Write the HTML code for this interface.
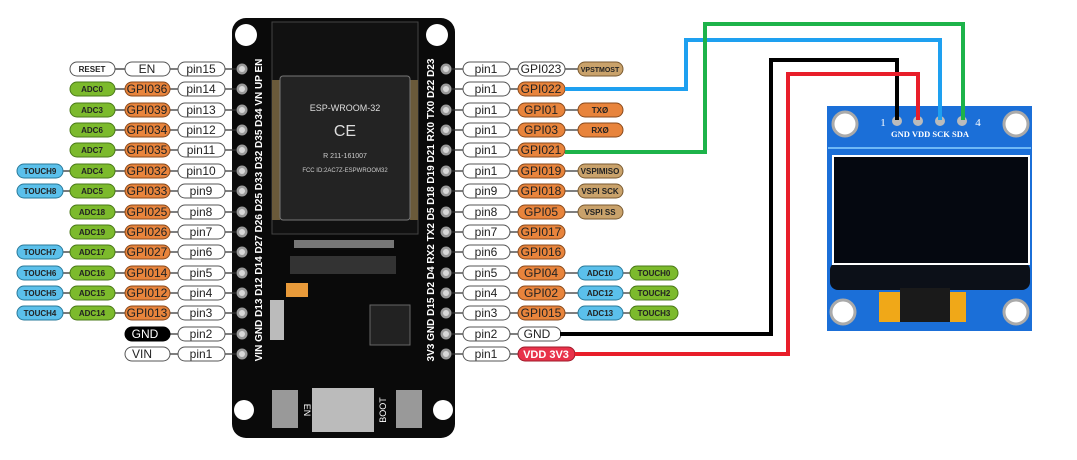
<!DOCTYPE html>
<html><head><meta charset="utf-8"><style>
html,body{margin:0;padding:0;background:#fff}
svg{display:block}
text{font-family:"Liberation Sans",sans-serif;text-anchor:middle}
.w{fill:#fff;stroke:#555;stroke-width:1}
.o{fill:#e8843c;stroke:#8a4a1c;stroke-width:1}
.g{fill:#7cba2c;stroke:#4a7a18;stroke-width:1}
.b{fill:#5bc0eb;stroke:#2a7a9a;stroke-width:1}
.t{fill:#c9a26b;stroke:#7a5a30;stroke-width:1}
.k{fill:#000;stroke:#000}
.r{fill:#e8324a;stroke:#a01a2a}
.p{font-size:12px;fill:#222}
.s{font-size:8px;font-weight:bold;fill:#222}
.ln{stroke:#333;stroke-width:1.3}
</style></head><body>
<svg width="1077" height="460" viewBox="0 0 1077 460" xmlns="http://www.w3.org/2000/svg">
<defs>
<g id="hp"><circle r="5.5" fill="#9a9a9a"/><circle r="3" fill="#d8d8d8"/></g>
</defs>
<!-- board -->
<rect x="232" y="18" width="223" height="420" rx="14" fill="#0a0a0a"/>
<circle cx="246" cy="35" r="11" fill="#fff"/><circle cx="437" cy="35" r="11" fill="#fff"/>
<circle cx="244" cy="410" r="10" fill="#fff"/><circle cx="443" cy="410" r="10" fill="#fff"/>
<rect x="272" y="22" width="146" height="212" fill="#111" stroke="#444"/>
<rect x="272" y="80" width="8" height="140" fill="#6a5a3a"/>
<rect x="410" y="80" width="8" height="140" fill="#6a5a3a"/>
<rect x="280" y="76" width="130" height="144" rx="3" fill="#232323" stroke="#777"/>
<text x="345" y="111" style="font-size:9px;fill:#ddd">ESP-WROOM-32</text>
<text x="345" y="136" style="font-size:16px;fill:#ddd">CE</text>
<text x="345" y="158" style="font-size:7px;fill:#ccc">R 211-161007</text>
<text x="345" y="172" style="font-size:6px;fill:#ccc">FCC ID:2AC7Z-ESPWROOM32</text>
<rect x="294" y="240" width="100" height="8" fill="#777"/>
<rect x="290" y="256" width="106" height="18" fill="#333"/>
<rect x="286" y="283" width="22" height="14" fill="#e89a3a"/>
<rect x="270" y="300" width="14" height="40" fill="#bbb"/>
<rect x="370" y="305" width="40" height="40" fill="#222" stroke="#666"/>
<rect x="272" y="390" width="26" height="38" fill="#999"/><rect x="396" y="390" width="26" height="38" fill="#999"/>
<rect x="312" y="388" width="62" height="44" fill="#bbb"/>
<text x="304" y="410" style="font-size:9px;fill:#fff" transform="rotate(90 304 410)">EN</text>
<text x="386" y="410" style="font-size:9px;fill:#fff" transform="rotate(-90 386 410)">BOOT</text>
<g>
<use href="#hp" x="242" y="69"/><use href="#hp" x="242" y="89"/><use href="#hp" x="242" y="110"/><use href="#hp" x="242" y="130"/><use href="#hp" x="242" y="150"/><use href="#hp" x="242" y="171"/><use href="#hp" x="242" y="191"/><use href="#hp" x="242" y="212"/><use href="#hp" x="242" y="232"/><use href="#hp" x="242" y="252"/><use href="#hp" x="242" y="273"/><use href="#hp" x="242" y="293"/><use href="#hp" x="242" y="313"/><use href="#hp" x="242" y="334"/><use href="#hp" x="242" y="354"/>
<use href="#hp" x="446" y="69"/><use href="#hp" x="446" y="89"/><use href="#hp" x="446" y="110"/><use href="#hp" x="446" y="130"/><use href="#hp" x="446" y="150"/><use href="#hp" x="446" y="171"/><use href="#hp" x="446" y="191"/><use href="#hp" x="446" y="212"/><use href="#hp" x="446" y="232"/><use href="#hp" x="446" y="252"/><use href="#hp" x="446" y="273"/><use href="#hp" x="446" y="293"/><use href="#hp" x="446" y="313"/><use href="#hp" x="446" y="334"/><use href="#hp" x="446" y="354"/>
</g>
<text x="262" y="210" style="font-size:10px;font-weight:bold;fill:#fff" transform="rotate(-90 262 210)">VIN GND D13 D12 D14 D27 D26 D25 D33 D32 D35 D34 VN UP EN</text>
<text x="434" y="210" style="font-size:10px;font-weight:bold;fill:#fff" transform="rotate(-90 434 210)">3V3 GND D15 D2 D4 RX2 TX2 D5 D18 D19 D21 RX0 TX0 D22 D23</text>

<!-- left connector lines -->
<g class="ln">
<line x1="63" y1="171" x2="70" y2="171"/><line x1="63" y1="191" x2="70" y2="191"/><line x1="63" y1="252" x2="70" y2="252"/><line x1="63" y1="273" x2="70" y2="273"/><line x1="63" y1="293" x2="70" y2="293"/><line x1="63" y1="313" x2="70" y2="313"/>
<line x1="115" y1="69" x2="125" y2="69"/><line x1="115" y1="89" x2="125" y2="89"/><line x1="115" y1="110" x2="125" y2="110"/><line x1="115" y1="130" x2="125" y2="130"/><line x1="115" y1="150" x2="125" y2="150"/><line x1="115" y1="171" x2="125" y2="171"/><line x1="115" y1="191" x2="125" y2="191"/><line x1="115" y1="212" x2="125" y2="212"/><line x1="115" y1="232" x2="125" y2="232"/><line x1="115" y1="252" x2="125" y2="252"/><line x1="115" y1="273" x2="125" y2="273"/><line x1="115" y1="293" x2="125" y2="293"/><line x1="115" y1="313" x2="125" y2="313"/>
<line x1="170" y1="69" x2="236" y2="69"/><line x1="170" y1="89" x2="236" y2="89"/><line x1="170" y1="110" x2="236" y2="110"/><line x1="170" y1="130" x2="236" y2="130"/><line x1="170" y1="150" x2="236" y2="150"/><line x1="170" y1="171" x2="236" y2="171"/><line x1="170" y1="191" x2="236" y2="191"/><line x1="170" y1="212" x2="236" y2="212"/><line x1="170" y1="232" x2="236" y2="232"/><line x1="170" y1="252" x2="236" y2="252"/><line x1="170" y1="273" x2="236" y2="273"/><line x1="170" y1="293" x2="236" y2="293"/><line x1="170" y1="313" x2="236" y2="313"/><line x1="170" y1="334" x2="236" y2="334"/><line x1="170" y1="354" x2="236" y2="354"/>
<!-- right -->
<line x1="452" y1="69" x2="578" y2="69"/><line x1="452" y1="89" x2="518" y2="89"/><line x1="452" y1="110" x2="578" y2="110"/><line x1="452" y1="130" x2="578" y2="130"/><line x1="452" y1="150" x2="518" y2="150"/><line x1="452" y1="171" x2="578" y2="171"/><line x1="452" y1="191" x2="578" y2="191"/><line x1="452" y1="212" x2="578" y2="212"/><line x1="452" y1="232" x2="518" y2="232"/><line x1="452" y1="252" x2="518" y2="252"/><line x1="452" y1="273" x2="630" y2="273"/><line x1="452" y1="293" x2="630" y2="293"/><line x1="452" y1="313" x2="630" y2="313"/><line x1="452" y1="334" x2="518" y2="334"/><line x1="452" y1="354" x2="518" y2="354"/>
</g>

<!-- left boxes -->
<g>
<rect class="w" x="70" y="62" width="45" height="14" rx="7"/><text class="s" x="92" y="72">RESET</text>
<rect class="w" x="125" y="62" width="45" height="14" rx="7"/><text class="p" x="147" y="73">EN</text>
<rect class="w" x="178" y="62" width="47" height="14" rx="7"/><text class="p" x="201" y="73">pin15</text>

<rect class="g" x="70" y="82" width="45" height="14" rx="7"/><text class="s" x="92" y="92">ADC0</text>
<rect class="o" x="125" y="82" width="45" height="14" rx="7"/><text class="p" x="147" y="93">GPI036</text>
<rect class="w" x="178" y="82" width="47" height="14" rx="7"/><text class="p" x="201" y="93">pin14</text>

<rect class="g" x="70" y="103" width="45" height="14" rx="7"/><text class="s" x="92" y="113">ADC3</text>
<rect class="o" x="125" y="103" width="45" height="14" rx="7"/><text class="p" x="147" y="114">GPI039</text>
<rect class="w" x="178" y="103" width="47" height="14" rx="7"/><text class="p" x="201" y="114">pin13</text>

<rect class="g" x="70" y="123" width="45" height="14" rx="7"/><text class="s" x="92" y="133">ADC6</text>
<rect class="o" x="125" y="123" width="45" height="14" rx="7"/><text class="p" x="147" y="134">GPI034</text>
<rect class="w" x="178" y="123" width="47" height="14" rx="7"/><text class="p" x="201" y="134">pin12</text>

<rect class="g" x="70" y="143" width="45" height="14" rx="7"/><text class="s" x="92" y="153">ADC7</text>
<rect class="o" x="125" y="143" width="45" height="14" rx="7"/><text class="p" x="147" y="154">GPI035</text>
<rect class="w" x="178" y="143" width="47" height="14" rx="7"/><text class="p" x="201" y="154">pin11</text>

<rect class="b" x="17" y="164" width="46" height="14" rx="7"/><text class="s" x="40" y="174">TOUCH9</text>
<rect class="g" x="70" y="164" width="45" height="14" rx="7"/><text class="s" x="92" y="174">ADC4</text>
<rect class="o" x="125" y="164" width="45" height="14" rx="7"/><text class="p" x="147" y="175">GPI032</text>
<rect class="w" x="178" y="164" width="47" height="14" rx="7"/><text class="p" x="201" y="175">pin10</text>

<rect class="b" x="17" y="184" width="46" height="14" rx="7"/><text class="s" x="40" y="194">TOUCH8</text>
<rect class="g" x="70" y="184" width="45" height="14" rx="7"/><text class="s" x="92" y="194">ADC5</text>
<rect class="o" x="125" y="184" width="45" height="14" rx="7"/><text class="p" x="147" y="195">GPI033</text>
<rect class="w" x="178" y="184" width="47" height="14" rx="7"/><text class="p" x="201" y="195">pin9</text>

<rect class="g" x="70" y="205" width="45" height="14" rx="7"/><text class="s" x="92" y="215">ADC18</text>
<rect class="o" x="125" y="205" width="45" height="14" rx="7"/><text class="p" x="147" y="216">GPI025</text>
<rect class="w" x="178" y="205" width="47" height="14" rx="7"/><text class="p" x="201" y="216">pin8</text>

<rect class="g" x="70" y="225" width="45" height="14" rx="7"/><text class="s" x="92" y="235">ADC19</text>
<rect class="o" x="125" y="225" width="45" height="14" rx="7"/><text class="p" x="147" y="236">GPI026</text>
<rect class="w" x="178" y="225" width="47" height="14" rx="7"/><text class="p" x="201" y="236">pin7</text>

<rect class="b" x="17" y="245" width="46" height="14" rx="7"/><text class="s" x="40" y="255">TOUCH7</text>
<rect class="g" x="70" y="245" width="45" height="14" rx="7"/><text class="s" x="92" y="255">ADC17</text>
<rect class="o" x="125" y="245" width="45" height="14" rx="7"/><text class="p" x="147" y="256">GPI027</text>
<rect class="w" x="178" y="245" width="47" height="14" rx="7"/><text class="p" x="201" y="256">pin6</text>

<rect class="b" x="17" y="266" width="46" height="14" rx="7"/><text class="s" x="40" y="276">TOUCH6</text>
<rect class="g" x="70" y="266" width="45" height="14" rx="7"/><text class="s" x="92" y="276">ADC16</text>
<rect class="o" x="125" y="266" width="45" height="14" rx="7"/><text class="p" x="147" y="277">GPI014</text>
<rect class="w" x="178" y="266" width="47" height="14" rx="7"/><text class="p" x="201" y="277">pin5</text>

<rect class="b" x="17" y="286" width="46" height="14" rx="7"/><text class="s" x="40" y="296">TOUCH5</text>
<rect class="g" x="70" y="286" width="45" height="14" rx="7"/><text class="s" x="92" y="296">ADC15</text>
<rect class="o" x="125" y="286" width="45" height="14" rx="7"/><text class="p" x="147" y="297">GPI012</text>
<rect class="w" x="178" y="286" width="47" height="14" rx="7"/><text class="p" x="201" y="297">pin4</text>

<rect class="b" x="17" y="306" width="46" height="14" rx="7"/><text class="s" x="40" y="316">TOUCH4</text>
<rect class="g" x="70" y="306" width="45" height="14" rx="7"/><text class="s" x="92" y="316">ADC14</text>
<rect class="o" x="125" y="306" width="45" height="14" rx="7"/><text class="p" x="147" y="317">GPI013</text>
<rect class="w" x="178" y="306" width="47" height="14" rx="7"/><text class="p" x="201" y="317">pin3</text>

<rect class="k" x="125" y="327" width="45" height="14" rx="7"/><text class="p" x="145" y="338" style="fill:#fff">GND</text>
<rect class="w" x="178" y="327" width="47" height="14" rx="7"/><text class="p" x="201" y="338">pin2</text>

<rect class="w" x="125" y="347" width="45" height="14" rx="7"/><text class="p" x="142" y="358">VIN</text>
<rect class="w" x="178" y="347" width="47" height="14" rx="7"/><text class="p" x="201" y="358">pin1</text>
</g>

<!-- right boxes -->
<g>
<rect class="w" x="463" y="62" width="47" height="14" rx="7"/><text class="p" x="486" y="73">pin1</text>
<rect class="w" x="518" y="62" width="47" height="14" rx="7"/><text class="p" x="541" y="73">GPI023</text>
<rect class="t" x="578" y="62" width="45" height="14" rx="7"/><text class="s" x="600" y="72" style="font-size:7px">VPSTMOST</text>

<rect class="w" x="463" y="82" width="47" height="14" rx="7"/><text class="p" x="486" y="93">pin1</text>
<rect class="o" x="518" y="82" width="47" height="14" rx="7"/><text class="p" x="541" y="93">GPI022</text>

<rect class="w" x="463" y="103" width="47" height="14" rx="7"/><text class="p" x="486" y="114">pin1</text>
<rect class="o" x="518" y="103" width="47" height="14" rx="7"/><text class="p" x="541" y="114">GPI01</text>
<rect class="o" x="578" y="103" width="45" height="14" rx="7"/><text class="s" x="600" y="113">TXØ</text>

<rect class="w" x="463" y="123" width="47" height="14" rx="7"/><text class="p" x="486" y="134">pin1</text>
<rect class="o" x="518" y="123" width="47" height="14" rx="7"/><text class="p" x="541" y="134">GPI03</text>
<rect class="o" x="578" y="123" width="45" height="14" rx="7"/><text class="s" x="600" y="133">RXØ</text>

<rect class="w" x="463" y="143" width="47" height="14" rx="7"/><text class="p" x="486" y="154">pin1</text>
<rect class="o" x="518" y="143" width="47" height="14" rx="7"/><text class="p" x="541" y="154">GPI021</text>

<rect class="w" x="463" y="164" width="47" height="14" rx="7"/><text class="p" x="486" y="175">pin1</text>
<rect class="o" x="518" y="164" width="47" height="14" rx="7"/><text class="p" x="541" y="175">GPI019</text>
<rect class="t" x="578" y="164" width="45" height="14" rx="7"/><text class="s" x="600" y="174">VSPIMISO</text>

<rect class="w" x="463" y="184" width="47" height="14" rx="7"/><text class="p" x="486" y="195">pin9</text>
<rect class="o" x="518" y="184" width="47" height="14" rx="7"/><text class="p" x="541" y="195">GPI018</text>
<rect class="t" x="578" y="184" width="45" height="14" rx="7"/><text class="s" x="600" y="194">VSPI SCK</text>

<rect class="w" x="463" y="205" width="47" height="14" rx="7"/><text class="p" x="486" y="216">pin8</text>
<rect class="o" x="518" y="205" width="47" height="14" rx="7"/><text class="p" x="541" y="216">GPI05</text>
<rect class="t" x="578" y="205" width="45" height="14" rx="7"/><text class="s" x="600" y="215">VSPI SS</text>

<rect class="w" x="463" y="225" width="47" height="14" rx="7"/><text class="p" x="486" y="236">pin7</text>
<rect class="o" x="518" y="225" width="47" height="14" rx="7"/><text class="p" x="541" y="236">GPI017</text>

<rect class="w" x="463" y="245" width="47" height="14" rx="7"/><text class="p" x="486" y="256">pin6</text>
<rect class="o" x="518" y="245" width="47" height="14" rx="7"/><text class="p" x="541" y="256">GPI016</text>

<rect class="w" x="463" y="266" width="47" height="14" rx="7"/><text class="p" x="486" y="277">pin5</text>
<rect class="o" x="518" y="266" width="47" height="14" rx="7"/><text class="p" x="541" y="277">GPI04</text>
<rect class="b" x="578" y="266" width="45" height="14" rx="7"/><text class="s" x="600" y="276">ADC10</text>
<rect class="g" x="630" y="266" width="48" height="14" rx="7"/><text class="s" x="654" y="276">TOUCH0</text>

<rect class="w" x="463" y="286" width="47" height="14" rx="7"/><text class="p" x="486" y="297">pin4</text>
<rect class="o" x="518" y="286" width="47" height="14" rx="7"/><text class="p" x="541" y="297">GPI02</text>
<rect class="b" x="578" y="286" width="45" height="14" rx="7"/><text class="s" x="600" y="296">ADC12</text>
<rect class="g" x="630" y="286" width="48" height="14" rx="7"/><text class="s" x="654" y="296">TOUCH2</text>

<rect class="w" x="463" y="306" width="47" height="14" rx="7"/><text class="p" x="486" y="317">pin3</text>
<rect class="o" x="518" y="306" width="47" height="14" rx="7"/><text class="p" x="541" y="317">GPI015</text>
<rect class="b" x="578" y="306" width="45" height="14" rx="7"/><text class="s" x="600" y="316">ADC13</text>
<rect class="g" x="630" y="306" width="48" height="14" rx="7"/><text class="s" x="654" y="316">TOUCH3</text>

<rect class="w" x="463" y="327" width="47" height="14" rx="7"/><text class="p" x="486" y="338">pin2</text>
<rect class="w" x="518" y="327" width="43" height="14" rx="7"/><text class="p" x="537" y="338">GND</text>

<rect class="w" x="463" y="347" width="47" height="14" rx="7"/><text class="p" x="486" y="358">pin1</text>
<rect class="r" x="518" y="347" width="57" height="14" rx="7"/><text class="p" x="546" y="358" style="fill:#fff;font-weight:bold;font-size:11px">VDD 3V3</text>
</g>

<!-- OLED -->
<rect x="827" y="106" width="205" height="225" fill="#1b6fd8"/>
<circle cx="845" cy="124" r="12" fill="#fff" stroke="#aaa" stroke-width="3"/>
<circle cx="1016" cy="124" r="12" fill="#fff" stroke="#aaa" stroke-width="3"/>
<circle cx="843" cy="312" r="12" fill="#fff" stroke="#aaa" stroke-width="3"/>
<circle cx="1016" cy="312" r="12" fill="#fff" stroke="#aaa" stroke-width="3"/>
<line x1="828" y1="148" x2="1031" y2="148" stroke="#8ad0ff" stroke-width="1.5"/>
<rect x="830" y="262" width="200" height="28" rx="8" fill="#0c1018"/>
<rect x="879" y="292" width="87" height="30" fill="#f0a818"/>
<rect x="900" y="288" width="50" height="34" fill="#1a1a1a"/>
<rect x="833" y="156" width="196" height="108" fill="#050810" stroke="#fff" stroke-width="2"/>
<text x="883" y="126" style="font-size:11px;font-family:'Liberation Serif',serif;fill:#fff">1</text>
<text x="978" y="126" style="font-size:11px;font-family:'Liberation Serif',serif;fill:#fff">4</text>
<text x="930" y="137" style="font-size:8.5px;font-family:'Liberation Serif',serif;fill:#fff;font-weight:bold">GND VDD SCK SDA</text>
<circle cx="897" cy="121" r="5" fill="#bbb"/><circle cx="918" cy="121" r="5" fill="#bbb"/><circle cx="940" cy="121" r="5" fill="#bbb"/><circle cx="962" cy="121" r="5" fill="#bbb"/>

<!-- wires -->
<g fill="none" stroke-width="4" stroke-linejoin="miter">
<polyline points="565,89 686,89 686,40 940,40 940,120" stroke="#1ea0f0"/>
<polyline points="565,152 705,152 705,24 963,24 963,120" stroke="#1db34a"/>
<polyline points="560,334 771,334 771,60 897,60 897,120" stroke="#000"/>
<polyline points="575,354 788,354 788,74 918,74 918,120" stroke="#e81e2a"/>
</g>
</svg>
</body></html>
